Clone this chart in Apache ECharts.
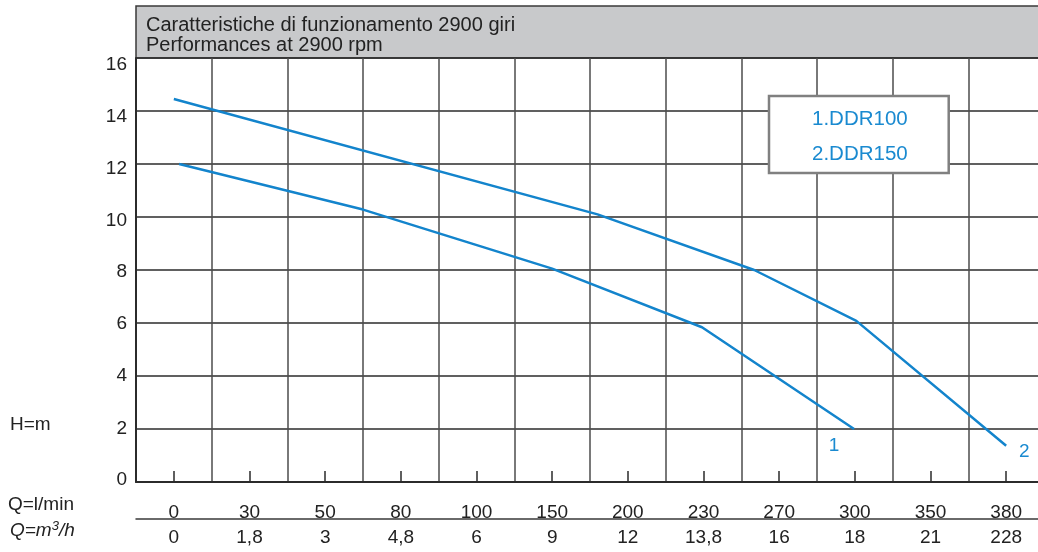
<!DOCTYPE html>
<html>
<head>
    <meta charset="UTF-8">
    <title>Performances at 2900 rpm</title>
    <script src="https://cdn.jsdelivr.net/npm/echarts@6/dist/echarts.min.js"></script>
    <style>
        html, body { margin: 0; padding: 0; background: #fff; overflow: hidden; }
    </style>
</head>
<body>
<!-- il grafico originale prosegue oltre il bordo destro: il div e' piu' largo della finestra -->
<div id="main" style="width: 1044px;height:552px;"></div>
<script type="text/javascript">
    // etichette asse portata (una colonna per valore)
    var qLmin = ['0', '30', '50', '80', '100', '150', '200', '230', '270', '300', '350', '380'];
    var qM3h = ['0', '1,8', '3', '4,8', '6', '9', '12', '13,8', '16', '18', '21', '228'];
    var hTicks = [0, 2, 4, 6, 8, 10, 12, 14, 16];

    // curve: posizione sulla scala delle colonne (0..12) e prevalenza H in m
    var ddr100Pos = [0.57, 3.0, 5.5, 7.48, 9.49];
    var ddr100H = [12, 10.28, 8.05, 5.84, 2.0];
    var ddr150Pos = [0.5, 6.1, 8.17, 9.52, 11.5];
    var ddr150H = [14.45, 10.1, 8.0, 6.08, 1.37];

    var names = ['1.DDR100', '2.DDR150'];
    var blue = '#1384cc';
    var dark = '#222';
    var font = 'Liberation Sans, Arial, sans-serif';

    function pairs(xs, ys) {
        var out = [];
        for (var i = 0; i < xs.length; i++) out.push([xs[i], ys[i]]);
        return out;
    }

    // nel disegno le etichette alte di H sono un po' piu' in basso della loro riga
    var hPad = {16: 14, 14: 11, 12: 10, 10: 8, 8: 3, 6: 1, 4: 0, 2: 0, 0: 0};
    var hRich = {};
    hTicks.forEach(function (v) {
        hRich['h' + v] = {fontSize: 19, color: dark, fontFamily: font, padding: [hPad[v], 0, v === 0 ? 4 : 0, 0]};
    });

    var chart = echarts.init(document.getElementById('main'));
    chart.setOption({
        animation: false,
        title: {
            text: 'Caratteristiche di funzionamento 2900 giri\nPerformances at 2900 rpm',
            left: 146,
            top: 15,
            padding: 0,
            textStyle: {
                fontFamily: font,
                fontSize: 20,
                fontWeight: 'normal',
                color: dark,
                lineHeight: 20
            }
        },
        legend: {
            data: names,
            orient: 'vertical',
            left: 769,
            top: 96,
            icon: 'none',
            itemWidth: 0,
            itemHeight: 20,
            itemGap: 14,
            padding: [13, 41, 8, 38],
            backgroundColor: '#fff',
            borderColor: '#808080',
            borderWidth: 2.5,
            selectedMode: false,
            textStyle: {
                fontFamily: font,
                fontSize: 20.5,
                color: '#1a8ad0'
            }
        },
        grid: {
            left: 136,
            top: 58,
            right: 0,
            height: 424
        },
        graphic: [
            {
                type: 'rect',
                z: -1,
                shape: {x: 136, y: 6, width: 920, height: 52},
                style: {fill: '#c8c9cb', stroke: '#3a3a3a', lineWidth: 1.5}
            },
            {
                type: 'text', left: 10, top: 415,
                style: {text: 'H=m', fontSize: 19, fill: dark, fontFamily: font}
            },
            {
                type: 'text', left: 8, top: 495,
                style: {text: 'Q=l/min', fontSize: 19, fill: dark, fontFamily: font}
            },
            {
                type: 'text', left: 10, top: 520,
                style: {
                    text: '{a|Q=m}{s|3}{a|/h}',
                    rich: {
                        a: {fontSize: 19, fontStyle: 'italic', fill: dark, fontFamily: font},
                        s: {fontSize: 13, fontStyle: 'italic', fill: dark, padding: [0, 0, 8, 0], fontFamily: font}
                    }
                }
            }
        ],
        xAxis: [
            {
                type: 'value',
                min: 0,
                max: 12,
                interval: 1,
                axisLine: {show: true, lineStyle: {color: '#2b2b2b', width: 2}},
                axisTick: {show: false},
                axisLabel: {show: false},
                splitLine: {show: true, lineStyle: {color: '#4d4d4d', width: 1.5}}
            },
            {
                type: 'category',
                data: qLmin,
                position: 'bottom',
                boundaryGap: true,
                axisLine: {show: false},
                axisTick: {show: true, inside: true, alignWithLabel: true, length: 11, lineStyle: {color: '#2b2b2b', width: 1.5}},
                axisLabel: {
                    margin: 21,
                    fontSize: 19,
                    color: dark,
                    fontFamily: font
                },
                splitLine: {show: false}
            },
            {
                type: 'category',
                data: qM3h,
                position: 'bottom',
                offset: 37,
                boundaryGap: true,
                axisLine: {show: true, lineStyle: {color: '#3a3a3a', width: 1.5}},
                axisTick: {show: false},
                axisLabel: {
                    margin: 9,
                    fontSize: 19,
                    color: dark,
                    fontFamily: font
                },
                splitLine: {show: false}
            }
        ],
        yAxis: {
            type: 'value',
            min: hTicks[0],
            max: hTicks[hTicks.length - 1],
            interval: 2,
            axisLine: {show: true, lineStyle: {color: '#2b2b2b', width: 2}},
            axisTick: {show: false},
            axisLabel: {
                margin: 9,
                formatter: function (v) { return '{h' + v + '|' + v + '}'; },
                rich: hRich
            },
            splitLine: {show: true, lineStyle: {color: '#2b2b2b', width: 1.5}}
        },
        series: [
            {
                name: names[0],
                type: 'line',
                xAxisIndex: 0,
                data: pairs(ddr100Pos, ddr100H),
                symbol: 'none',
                lineStyle: {color: blue, width: 2.5},
                itemStyle: {color: blue},
                endLabel: {
                    show: true,
                    formatter: '1',
                    align: 'center',
                    verticalAlign: 'middle',
                    offset: [-28, 17],
                    fontSize: 19,
                    color: '#1a8ad0',
                    fontFamily: font
                }
            },
            {
                name: names[1],
                type: 'line',
                xAxisIndex: 0,
                data: pairs(ddr150Pos, ddr150H),
                symbol: 'none',
                lineStyle: {color: blue, width: 2.5},
                itemStyle: {color: blue},
                endLabel: {
                    show: true,
                    formatter: '2',
                    align: 'center',
                    verticalAlign: 'middle',
                    offset: [10, 6],
                    fontSize: 19,
                    color: '#1a8ad0',
                    fontFamily: font
                }
            }
        ]
    });
</script>
</body>
</html>
